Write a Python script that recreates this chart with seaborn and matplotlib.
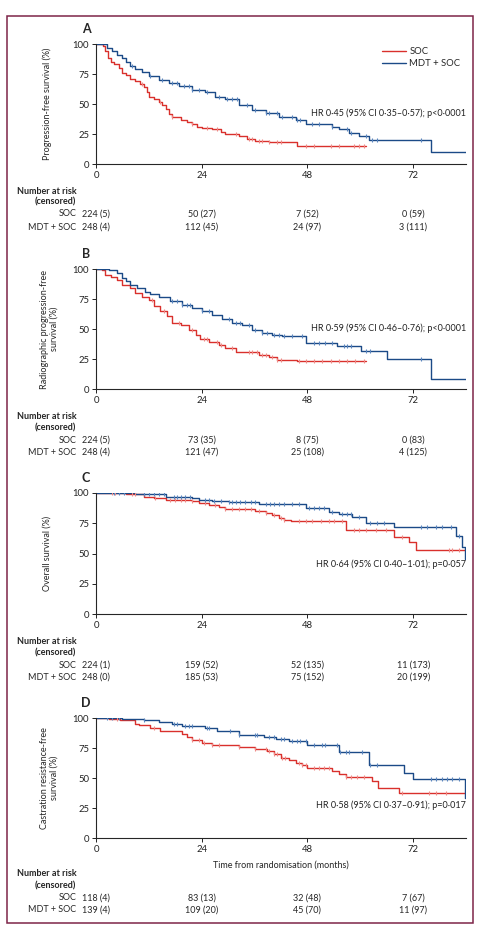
import numpy as np
import matplotlib
matplotlib.use("Agg")
import matplotlib.pyplot as plt
from matplotlib.patches import Rectangle
import seaborn as sns

# Kaplan-Meier step values (months, % surviving)
# A: progression-free survival
a_soc_t = [0, 1.7, 2.1, 2.7, 3.3, 4.0, 5.2, 5.9, 6.7, 7.8, 8.9, 10.1, 10.8, 11.6, 12.1, 13.1, 14.2, 15.0,
           15.8, 16.5, 17.3, 19.2, 20.7, 21.8, 23.0, 24.1, 26.4, 28.3, 29.4, 32.4, 34.3, 36.2, 39.2, 45.7]
a_soc_s = [100, 98, 94, 88, 85, 83, 80, 76, 74, 71, 69, 67, 64, 60, 56, 54, 52, 49,
           46, 42, 39, 37, 35, 33, 31, 30, 29, 27, 25, 23, 21, 19, 18, 15]
a_soc_cens = [10.5, 14.6, 17.3, 21.8, 25.2, 27.5, 31.7, 34.7, 35.5, 37.0, 37.7, 39.2, 41.1, 41.9,
              47.6, 49.5, 53.3, 55.2, 58.6, 59.7, 60.8]
a_mdt_t = [0, 2.5, 3.6, 4.8, 5.9, 6.7, 7.8, 8.9, 10.5, 12.0, 14.2, 16.5, 18.8, 21.8, 24.8, 27.1, 29.4,
           32.4, 35.5, 38.5, 41.5, 45.3, 47.6, 53.6, 55.2, 57.4, 59.7, 62.0, 76.0]
a_mdt_s = [100, 97, 94, 91, 88, 85, 82, 79, 77, 73, 70, 67.5, 65, 62, 60, 56, 54,
           49, 45, 42.5, 39, 37, 33, 31, 29, 26, 23, 20, 10]
a_mdt_cens = [8.2, 12.3, 15.0, 17.3, 18.4, 19.9, 21.1, 21.8, 23.3, 25.2, 27.9, 29.8, 30.9, 32.0, 34.3,
              36.2, 38.5, 39.2, 41.1, 42.3, 44.5, 45.7, 46.4, 49.1, 50.6, 53.6, 57.0, 57.8, 61.2,
              62.7, 63.9, 73.7]

# B: radiographic progression-free survival
b_soc_t = [0, 1.4, 2.1, 3.3, 4.8, 5.9, 7.8, 8.9, 10.5, 12.0, 13.1, 14.6, 16.1, 17.3, 19.2, 21.1, 22.6,
           23.7, 25.6, 27.9, 29.4, 31.7, 35.5, 37.0, 39.2, 41.1, 45.7]
b_soc_s = [100, 99, 95, 93, 91, 87, 84, 80, 77, 74, 69, 65, 60.5, 55, 53, 49.5, 45,
           42, 39, 37, 34, 31, 30.5, 28.6, 27, 24.5, 23]
b_soc_cens = [12.7, 15.4, 18.8, 21.8, 24.5, 25.2, 27.5, 28.3, 30.9, 34.7, 35.5, 36.6, 37.7, 38.5,
              40.0, 41.1, 41.9, 46.1, 47.6, 49.5, 51.4, 53.3, 55.2, 57.0, 58.9, 60.8]
b_mdt_t = [0, 2.9, 4.8, 5.9, 6.7, 7.8, 9.3, 11.2, 12.3, 14.2, 16.9, 19.5, 21.8, 24.1, 26.4, 28.6,
           30.9, 33.2, 35.5, 37.7, 40.0, 42.3, 47.6, 54.8, 60.1, 66.0, 76.0]
b_mdt_s = [100, 99, 97, 92.5, 90, 87, 84, 81, 79, 77, 73, 70, 67.5, 65, 62, 58,
           55, 53, 49.5, 47, 45, 44.5, 38, 35.5, 32, 25, 8]
b_mdt_cens = [17.3, 18.4, 19.5, 20.7, 21.4, 24.1, 25.6, 30.2, 31.7, 32.8, 34.7, 36.2, 37.7, 38.9,
              40.4, 41.5, 42.7, 44.5, 46.8, 49.5, 50.6, 52.1, 53.6, 56.3, 57.0, 57.8, 61.2, 62.3, 73.7]

# C: overall survival
c_soc_t = [0, 6.7, 10.8, 13.1, 15.8, 21.8, 23.3, 25.6, 27.9, 29.4, 36.2, 38.5, 40.0, 41.5, 42.7,
           44.2, 45.7, 56.7, 67.7, 71.1, 72.6]
c_soc_s = [100, 99, 97, 96, 94.5, 93, 91.7, 90, 88.4, 86.8, 85, 83.5, 81.5, 79.6, 78,
           76.9, 76.6, 69.7, 63.6, 59.5, 52.6]
c_soc_cens = [3.6, 4.4, 8.2, 8.9, 13.5, 16.9, 18.0, 19.2, 20.3, 21.8, 24.8, 27.1, 29.4, 30.9, 32.4,
              33.9, 35.1, 37.0, 38.5, 40.4, 41.9, 42.7, 46.1, 47.6, 49.1, 51.0, 52.9, 54.0, 55.9,
              58.6, 59.7, 61.2, 63.5, 65.8, 69.5, 80.2, 80.9, 82.4]
c_mdt_t = [0, 8.9, 15.8, 21.8, 23.3, 26.4, 30.2, 37.0, 41.5, 47.6, 52.9, 55.2, 58.2, 61.2, 67.7,
           81.7, 83.0, 83.8]
c_mdt_s = [100, 99, 97, 95.9, 94.5, 93.4, 92.6, 91.2, 90.6, 87.9, 84.3, 82.9, 80.2, 75.2, 71.9,
           64.2, 55.4, 45.7]
c_mdt_cens = [4.0, 5.2, 6.3, 10.8, 12.0, 13.1, 14.2, 15.4, 17.7, 18.4, 19.2, 20.3, 21.4, 24.8, 25.6,
              26.7, 28.3, 30.2, 30.9, 31.7, 32.8, 33.9, 35.1, 36.2, 38.5, 39.6, 40.4, 41.5, 42.7,
              44.5, 46.1, 48.3, 49.5, 50.6, 51.7, 53.6, 55.9, 57.0, 57.8, 59.7, 62.3, 63.9, 65.4,
              73.7, 75.2, 77.1, 78.6, 80.5, 82.4]

# D: castration resistance-free survival
d_soc_t = [0, 2.9, 5.5, 8.9, 9.7, 12.3, 14.6, 19.5, 20.7, 21.8, 24.1, 26.4, 32.4, 36.2, 38.9, 40.4,
           41.9, 43.8, 45.3, 46.8, 48.0, 53.6, 55.2, 56.7, 62.7, 64.1, 68.8]
d_soc_s = [100, 99.4, 98, 95, 94, 91.7, 88.9, 86.9, 84, 81.4, 79.4, 77.8, 75.8, 74.4, 72.2, 70.3,
           66.7, 64.7, 62.8, 61.1, 58.3, 56.1, 53.6, 50.8, 47.2, 41.7, 37.5]
d_soc_cens = [4.8, 13.1, 21.8, 23.3, 24.5, 26.4, 27.9, 32.4, 36.2, 38.5, 39.2, 40.4, 41.1, 42.3,
              43.0, 46.1, 46.8, 47.6, 49.5, 50.6, 51.7, 52.9, 56.7, 57.8, 59.3, 60.8, 69.5, 75.6,
              77.1, 79.4]
d_mdt_t = [0, 5.9, 10.8, 14.2, 17.3, 19.5, 24.8, 27.5, 32.4, 38.1, 40.8, 43.8, 48.0, 55.2, 62.0,
           69.9, 72.0, 83.8]
d_mdt_s = [100, 99.4, 98, 96.7, 95.3, 93.3, 91.7, 88.9, 86.1, 84.2, 82.2, 80.6, 77.2, 71.7, 60.6,
           54.4, 49.4, 33.3]
d_mdt_cens = [2.5, 3.6, 5.2, 10.8, 17.7, 18.4, 20.3, 21.1, 21.8, 25.2, 25.6, 30.5, 32.4, 36.2, 36.6,
              39.2, 40.4, 41.9, 42.7, 44.5, 45.7, 46.4, 47.6, 49.5, 51.4, 52.1, 54.8, 55.5, 56.7,
              57.4, 60.5, 62.3, 63.9, 76.0, 77.1, 78.6, 79.7, 80.9, 82.4]

# last follow-up time of each curve
soc_end = [61.2, 61.2, 84, 84]
mdt_end = [84, 84, 84, 84]

panel_letters = ["A", "B", "C", "D"]
ylabels = ["Progression-free survival (%)",
           "Radiographic progression-free\nsurvival (%)",
           "Overall survival (%)",
           "Castration resistance-free\nsurvival (%)"]
hr_texts = ["HR 0·45 (95% CI 0·35–0·57); p<0·0001",
            "HR 0·59 (95% CI 0·46–0·76); p<0·0001",
            "HR 0·64 (95% CI 0·40–1·01); p=0·057",
            "HR 0·58 (95% CI 0·37–0·91); p=0·017"]
hr_y = [42.5, 51, 41, 27.5]

risk_times = [0, 24, 48, 72]
soc_risk = [["224 (5)", "50 (27)", "7 (52)", "0 (59)"],
            ["224 (5)", "73 (35)", "8 (75)", "0 (83)"],
            ["224 (1)", "159 (52)", "52 (135)", "11 (173)"],
            ["118 (4)", "83 (13)", "32 (48)", "7 (67)"]]
mdt_risk = [["248 (4)", "112 (45)", "24 (97)", "3 (111)"],
            ["248 (4)", "121 (47)", "25 (108)", "4 (125)"],
            ["248 (0)", "185 (53)", "75 (152)", "20 (199)"],
            ["139 (4)", "109 (20)", "45 (70)", "11 (97)"]]

curves = [
    (a_soc_t, a_soc_s, a_soc_cens, a_mdt_t, a_mdt_s, a_mdt_cens),
    (b_soc_t, b_soc_s, b_soc_cens, b_mdt_t, b_mdt_s, b_mdt_cens),
    (c_soc_t, c_soc_s, c_soc_cens, c_mdt_t, c_mdt_s, c_mdt_cens),
    (d_soc_t, d_soc_s, d_soc_cens, d_mdt_t, d_mdt_s, d_mdt_cens),
]

sns.set_style("ticks")
plt.rcParams["font.family"] = ["Lato", "DejaVu Sans"]
plt.rcParams["axes.linewidth"] = 0.8

FS = 6.5
RED = "#d9302c"
BLUE = "#1b4a87"
RED_C = "#ef8a86"
BLUE_C = "#5b86bf"

W, H = 484, 936
fig = plt.figure(figsize=(W / 100, H / 100), dpi=100)

# outer frame
fig.add_artist(Rectangle((7 / W, 1 - 923 / H), 466 / W, 907 / H, transform=fig.transFigure,
                         fill=False, edgecolor="#7d2448", lw=1.1))

# axes pixel extents: (top, bottom)
axes_px = [(44, 164), (269, 389), (493, 614), (718, 838)]
table_offsets = [[27, 38, 50, 63], [27, 39, 51, 63], [27, 39, 51, 63], [35, 48, 60, 72]]
ylab_x = [-0.119, -0.10, -0.119, -0.10]


def step_value(times, surv, t):
    idx = np.searchsorted(times, t, side="right") - 1
    return np.asarray(surv)[idx]


for i, (top, bot) in enumerate(axes_px):
    ax = fig.add_axes([96 / W, 1 - bot / H, 370 / W, (bot - top) / H])
    st, ss, sc, mt, ms, mc = curves[i]

    sns.lineplot(x=st + [soc_end[i]], y=ss + [ss[-1]], drawstyle="steps-post", color=RED,
                 lw=1.0, estimator=None, sort=False, label="SOC", ax=ax)
    sns.lineplot(x=mt + [mdt_end[i]], y=ms + [ms[-1]], drawstyle="steps-post", color=BLUE,
                 lw=1.0, estimator=None, sort=False, label="MDT + SOC", ax=ax)
    sns.scatterplot(x=sc, y=step_value(st, ss, sc), marker="|", s=10, color=RED_C,
                    linewidth=0.8, ax=ax, legend=False, zorder=3)
    sns.scatterplot(x=mc, y=step_value(mt, ms, mc), marker="|", s=10, color=BLUE_C,
                    linewidth=0.8, ax=ax, legend=False, zorder=3)

    ax.set_xlim(0, 84)
    ax.set_ylim(0, 100)
    ax.set_xticks([0, 24, 48, 72])
    ax.set_yticks([0, 25, 50, 75, 100])
    ax.tick_params(labelsize=FS + 0.3, length=3, width=0.7, pad=2, colors="#222222")
    sns.despine(ax=ax)
    ax.set_ylabel(ylabels[i], fontsize=FS, linespacing=1.15)
    ax.yaxis.set_label_coords(ylab_x[i], 0.5)
    ax.set_xlabel("")

    if i == 0:
        ax.legend(loc="upper right", bbox_to_anchor=(1.0, 1.02), frameon=False, fontsize=FS + 0.3,
                  handlelength=2.6, handletextpad=0.3, labelspacing=0.3, borderaxespad=0.2)
    else:
        ax.get_legend().remove()

    ax.text(-0.027, 1.125, panel_letters[i], transform=ax.transAxes, ha="center", va="center",
            fontsize=9, fontweight="bold")
    ax.text(84, hr_y[i], hr_texts[i], ha="right", va="center", fontsize=FS, color="#222222")

    if i == 3:
        ax.text(42, -27 / 120, "Time from randomisation (months)", transform=ax.get_xaxis_transform(),
                ha="center", va="center", fontsize=FS)

    # number at risk table
    hpx = bot - top
    offs = table_offsets[i]
    tr = ax.get_xaxis_transform()
    ax.text(-4.5, -offs[0] / hpx, "Number at risk", transform=tr, ha="right", va="center",
            fontsize=FS, fontweight="bold")
    ax.text(-4.5, -offs[1] / hpx, "(censored)", transform=tr, ha="right", va="center",
            fontsize=FS, fontweight="bold")
    ax.text(-4.5, -offs[2] / hpx, "SOC", transform=tr, ha="right", va="center", fontsize=FS)
    ax.text(-4.5, -offs[3] / hpx, "MDT + SOC", transform=tr, ha="right", va="center", fontsize=FS)
    for t, s_lab, m_lab in zip(risk_times, soc_risk[i], mdt_risk[i]):
        ax.text(t, -offs[2] / hpx, s_lab, transform=tr, ha="center", va="center", fontsize=FS)
        ax.text(t, -offs[3] / hpx, m_lab, transform=tr, ha="center", va="center", fontsize=FS)

fig.savefig("out.png", dpi=100)
